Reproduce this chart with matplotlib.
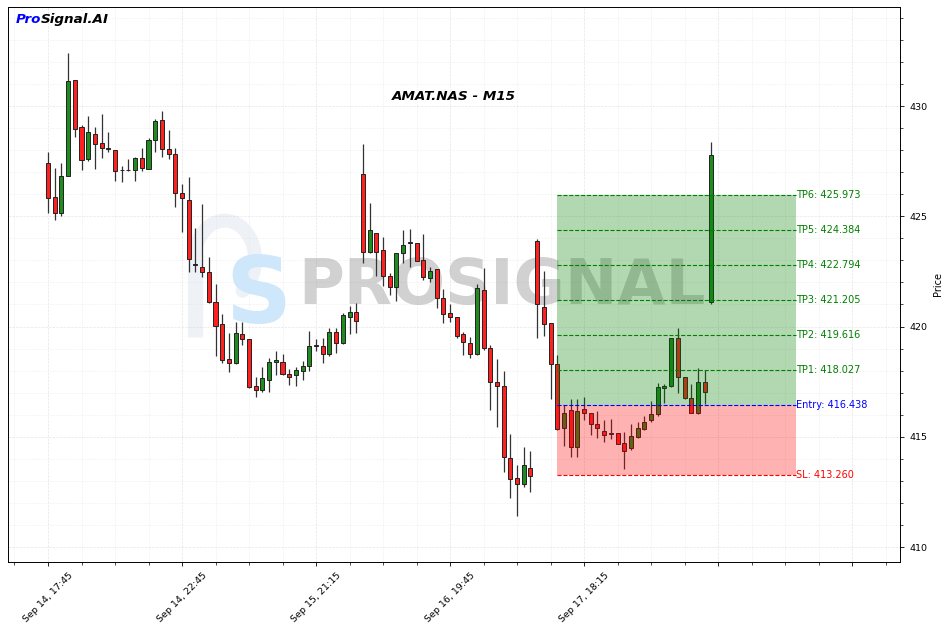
import matplotlib
matplotlib.use("Agg")
import matplotlib.pyplot as plt
from matplotlib.ticker import MultipleLocator, FixedLocator, FixedFormatter
import numpy as np

# ---------------- data ----------------
opens = [427.41, 425.87, 425.15, 426.83, 431.18, 429.05, 427.60, 428.73, 428.32, 428.10,
         428.00, 427.08, 427.10, 427.10, 427.64, 427.14, 428.46, 429.37, 428.05, 427.82,
         426.05, 425.74, 422.82, 422.70, 422.47, 421.11, 420.11, 418.53, 418.34, 419.66,
         419.43, 417.30, 417.12, 417.57, 418.39, 418.39, 417.85, 417.80, 417.98, 418.20,
         419.10, 419.12, 418.75, 419.75, 419.25, 420.43, 420.66, 426.92, 423.38, 424.24,
         423.47, 422.29, 421.79, 423.33, 423.79, 423.79, 423.02, 422.20, 422.61, 421.29,
         420.61, 420.43, 419.66, 419.25, 418.75, 421.66, 419.02, 417.48, 417.30, 414.04,
         413.13, 412.86, 413.58, 423.88, 420.88, 420.16, 418.30, 415.39, 416.20, 414.55,
         416.24, 416.10, 415.57, 415.26, 415.12, 415.19, 414.72, 414.48, 415.00, 415.34,
         415.76, 416.03, 417.22, 417.32, 419.46, 417.72, 416.74, 416.10, 417.47, 421.12]
highs = [427.91, 427.19, 427.41, 432.40, 431.18, 429.14, 429.55, 429.05, 429.64, 428.82,
         428.00, 427.28, 427.60, 427.69, 428.10, 428.55, 429.41, 429.77, 428.91, 428.10,
         426.46, 426.78, 424.47, 425.56, 423.15, 421.93, 420.57, 419.70, 420.20, 420.20,
         419.43, 417.71, 418.16, 418.57, 418.89, 418.75, 418.07, 418.16, 418.43, 419.80,
         419.43, 419.48, 419.93, 419.93, 420.61, 420.94, 421.07, 428.28, 425.60, 424.24,
         424.06, 422.43, 423.33, 424.38, 424.42, 423.79, 424.20, 422.70, 422.61, 421.70,
         421.02, 420.43, 419.75, 419.52, 421.93, 422.65, 419.16, 418.53, 417.98, 415.12,
         413.72, 414.54, 414.35, 423.97, 422.52, 420.16, 418.70, 416.44, 416.70, 416.70,
         416.80, 416.10, 416.17, 415.76, 415.80, 415.19, 415.23, 415.56, 415.68, 415.94,
         416.63, 417.42, 417.39, 419.46, 419.92, 417.72, 417.38, 418.10, 418.03, 428.38]
lows = [425.15, 424.83, 425.01, 426.83, 428.59, 427.10, 427.50, 427.14, 427.64, 427.91,
        426.60, 426.55, 427.05, 426.60, 427.05, 427.14, 427.91, 427.69, 427.60, 425.42,
        424.29, 422.47, 422.47, 422.24, 421.07, 418.66, 418.34, 417.94, 418.30, 419.16,
        417.21, 416.80, 417.03, 417.03, 417.80, 417.80, 417.35, 417.30, 417.57, 417.98,
        418.89, 418.34, 418.66, 418.80, 419.20, 419.66, 419.70, 422.88, 423.33, 422.29,
        421.84, 421.43, 421.16, 422.88, 422.70, 422.97, 422.10, 422.02, 420.84, 420.16,
        420.20, 419.48, 418.71, 418.57, 418.70, 418.93, 416.21, 415.44, 413.40, 412.22,
        411.41, 412.72, 412.49, 419.48, 419.57, 416.71, 415.30, 414.58, 414.08, 414.08,
        415.76, 415.08, 414.94, 414.76, 414.88, 414.68, 413.54, 414.40, 414.96, 415.31,
        415.66, 415.92, 416.54, 417.27, 417.00, 416.70, 416.07, 416.05, 416.47, 421.02]
closes = [425.83, 425.15, 426.83, 431.13, 428.96, 427.55, 428.82, 428.28, 428.10, 428.05,
          427.05, 427.12, 427.12, 427.64, 427.19, 428.46, 429.32, 428.05, 427.82, 426.05,
          425.83, 423.06, 422.80, 422.47, 421.11, 420.02, 418.48, 418.34, 419.70, 419.43,
          417.26, 417.12, 417.66, 418.39, 418.48, 417.85, 417.71, 418.03, 418.20, 419.12,
          419.14, 418.75, 419.75, 419.25, 420.52, 420.66, 420.25, 423.38, 424.38, 423.38,
          422.29, 421.79, 423.33, 423.70, 423.81, 422.97, 422.24, 422.52, 421.29, 420.57,
          420.43, 419.57, 419.30, 418.75, 421.75, 419.02, 417.48, 417.30, 414.08, 413.08,
          412.86, 413.72, 413.22, 421.02, 420.11, 418.30, 415.35, 416.07, 414.52, 416.18,
          416.07, 415.57, 415.39, 415.10, 415.15, 414.68, 414.37, 415.03, 415.39, 415.69,
          416.03, 417.24, 417.30, 419.46, 417.72, 416.78, 416.07, 417.47, 417.02, 427.78]

tick_labels = ["Sep 14, 17:45", "Sep 14, 22:45", "Sep 15, 21:15",
               "Sep 16, 19:45", "Sep 17, 18:15", "", ""]

tp_names = ["TP1", "TP2", "TP3", "TP4", "TP5", "TP6"]
tp_levels = [418.027, 419.616, 421.205, 422.794, 424.384, 425.973]
entry_level = 416.438
sl_level = 413.260

title = "AMAT.NAS - M15"

# ---------------- figure ----------------
fig = plt.figure(figsize=(9.47, 6.32), dpi=100)
ax = fig.add_axes([8 / 947, 70 / 632, 892 / 947, 555 / 632])

o = np.array(opens); h = np.array(highs); l = np.array(lows); c = np.array(closes)
x = np.arange(len(o))
up = c >= o
cols = np.where(up, "#1e8c1e", "#ff2020")

ax.vlines(x, l, h, color="#333333", linewidth=0.9, zorder=2)
bottoms = np.minimum(o, c)
heights = np.maximum(np.abs(c - o), 0.02)
ax.bar(x, heights, bottom=bottoms, width=0.6, color=cols,
       edgecolor="#222222", linewidth=0.7, zorder=3)

# zones
z0, z1 = 76, 111.6
ax.fill_between([z0, z1], entry_level, max(tp_levels), color="green", alpha=0.3,
                linewidth=0, zorder=4)
ax.fill_between([z0, z1], sl_level, entry_level, color="red", alpha=0.3,
                linewidth=0, zorder=4)
for name, lv in zip(tp_names, tp_levels):
    ax.hlines(lv, z0, z1, colors="green", linestyles="--", linewidth=0.8, zorder=5)
    ax.text(z1, lv, f"{name}: {lv:.3f}", color="green", fontsize=7,
            va="center", ha="left", zorder=6)
ax.hlines(entry_level, z0, z1, colors="blue", linestyles="--", linewidth=0.8, zorder=5)
ax.text(z1, entry_level, f"Entry: {entry_level:.3f}", color="blue", fontsize=7,
        va="center", ha="left", zorder=6)
ax.hlines(sl_level, z0, z1, colors="red", linestyles="--", linewidth=0.8, zorder=5)
ax.text(z1, sl_level, f"SL: {sl_level:.3f}", color="red", fontsize=7,
        va="center", ha="left", zorder=6)

# watermark (logo drawn in axes-fraction coordinates)
tr = ax.transAxes
ax.plot([0.2096, 0.2096], [0.405, 0.545], transform=tr, color="#eef2f7",
        linewidth=11, solid_capstyle="butt", zorder=0)
th = np.linspace(np.pi, -0.3 * np.pi, 60)
ax.plot(0.243 + 0.034 * np.cos(th), 0.545 + 0.07 * np.sin(th), transform=tr,
        color="#eef2f7", linewidth=10, solid_capstyle="round", zorder=0)
ax.text(0.281, 0.478, "S", transform=tr, fontsize=66, fontweight="heavy",
        color="#cfe7fb", ha="center", va="center", zorder=1)
ax.text(0.554, 0.495, "PROSIGNAL", transform=tr, fontsize=45,
        fontweight="heavy", color="#999999", alpha=0.45, ha="center", va="center",
        zorder=1)

# title and brand
ax.text(0.5, 0.838, title, transform=tr, fontsize=9.7,
        fontweight="bold", fontstyle="italic", ha="center", va="center", zorder=7)
t_pro = ax.text(0.009, 0.978, "Pro", transform=tr, fontsize=9.7,
                fontweight="bold", fontstyle="italic", color="blue", ha="left",
                va="center", zorder=8)
ax.annotate("Signal.AI", xy=(1, 0.5), xycoords=t_pro, xytext=(-0.5, 0),
            textcoords="offset points", fontsize=9.7,
            fontweight="bold", fontstyle="italic", color="black", ha="left",
            va="center", zorder=8)

# axes styling
ax.set_xlim(-5.97, 127.16)
ax.set_ylim(409.32, 434.49)
ax.yaxis.tick_right()
ax.yaxis.set_label_position("right")
ax.set_ylabel("Price", fontsize=7)
ax.yaxis.set_major_locator(MultipleLocator(5))
ax.yaxis.set_minor_locator(MultipleLocator(1))
ax.xaxis.set_major_locator(FixedLocator(np.arange(0, 121, 20)))
ax.xaxis.set_major_formatter(FixedFormatter(tick_labels))
ax.xaxis.set_minor_locator(MultipleLocator(5))
ax.tick_params(axis="both", which="major", labelsize=6.8, length=3, width=0.6)
ax.tick_params(axis="both", which="minor", length=2, width=0.5)
plt.setp(ax.get_xticklabels(), rotation=45, ha="center")
ax.grid(which="major", linestyle="--", color="#cccccc", linewidth=0.5, alpha=0.5)
ax.grid(which="minor", linestyle="--", color="#dddddd", linewidth=0.4, alpha=0.5)
ax.set_axisbelow(True)
for sp in ax.spines.values():
    sp.set_linewidth(0.7)

fig.savefig("out.png", dpi=100)
